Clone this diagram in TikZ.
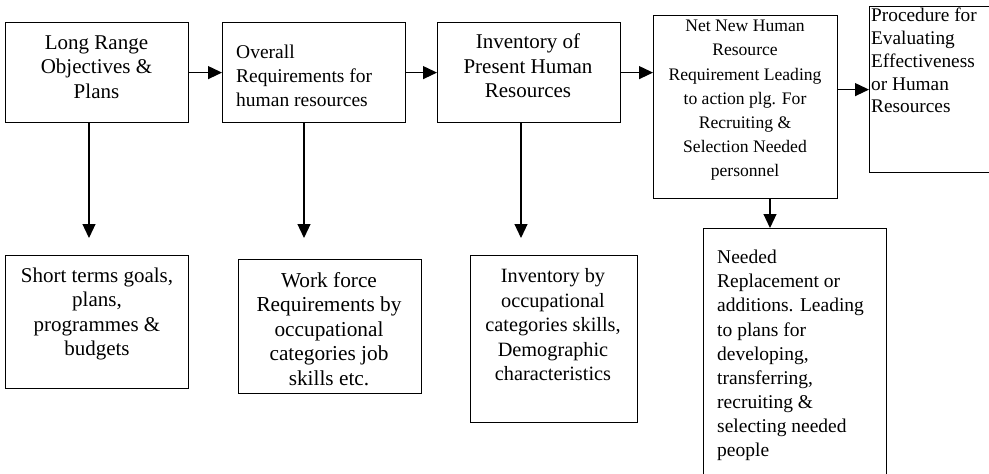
\documentclass[tikz,border=0pt]{standalone}
\usepackage{fontspec}
\setmainfont{Liberation Serif}
\usetikzlibrary{arrows.meta,calc}
\begin{document}
\begin{tikzpicture}[x=1pt,y=-1pt,
  box/.style={draw,line width=1.2pt,inner sep=0pt,anchor=north west},
  txt/.style={inner sep=0pt},
  arr/.style={line width=1.2pt,-{Triangle[length=14pt,width=13pt]}}]
\useasboundingbox (0,0) rectangle (989,474);
% top row boxes
\node[box,minimum width=183pt,minimum height=100pt] (b1) at (5,22) {};
\node[box,minimum width=183pt,minimum height=100pt] (b2) at (222,22) {};
\node[box,minimum width=183pt,minimum height=100pt] (b3) at (437,22) {};
\node[box,minimum width=184pt,minimum height=183pt] (b4) at (653,15) {};
\node[box,minimum width=183pt,minimum height=166pt] (b5) at (869,6) {};
% bottom row boxes
\node[box,minimum width=183pt,minimum height=133pt] (n1) at (5,255) {};
\node[box,minimum width=183pt,minimum height=134pt] (n2) at (238,259) {};
\node[box,minimum width=167pt,minimum height=167pt] (n3) at (470,255) {};
\node[box,minimum width=183pt,minimum height=260pt] (n4) at (703,228) {};
% texts
\node[txt,align=center,font=\fontsize{21}{24.3}\selectfont] (t1) at (96.5,67) {Long Range\\Objectives \&\\Plans};
\node[txt,align=left,anchor=west,font=\fontsize{19.5}{24.2}\selectfont] (t2) at (236,76) {Overall\\Requirements for\\human resources};
\node[txt,align=center,font=\fontsize{21}{24.5}\selectfont] (t3) at (528,66) {Inventory of\\Present Human\\Resources};
\node[txt,align=center,font=\fontsize{17.6}{24.2}\selectfont] (t4) at (745,100.5) {Net New Human\\Resource\\Requirement Leading\\to action plg. For\\Recruiting \&\\Selection Needed\\personnel};
\node[txt,align=left,anchor=west,font=\fontsize{19.3}{22.8}\selectfont] (t5) at (871,60.5) {Procedure for\\Evaluating\\Effectiveness\\or Human\\Resources};
\node[txt,align=center,font=\fontsize{21}{24.4}\selectfont] (s1) at (97,314) {Short terms goals,\\plans,\\programmes \&\\budgets};
\node[txt,align=center,font=\fontsize{21.3}{24.5}\selectfont] (s2) at (329,329) {Work force\\Requirements by\\occupational\\categories job\\skills etc.};
\node[txt,align=center,font=\fontsize{20.3}{24.5}\selectfont] (s3) at (553,325) {Inventory by\\occupational\\categories skills,\\Demographic\\characteristics};
\node[txt,align=left,anchor=west,font=\fontsize{19.5}{24.1}\selectfont] (s4) at (717,355.5) {Needed\\Replacement or\\additions. Leading\\to plans for\\developing,\\transferring,\\recruiting \&\\selecting needed\\people};
% horizontal arrows
\draw[arr] (b1.east) -- (b2.west);
\draw[arr] (b2.east) -- (b3.west);
\draw[arr] (b3.east) -- (b3.east -| b4.west);
\draw[arr] (b4.east |- b5.west) -- (b5.west);
% vertical arrows
\coordinate (d1) at (89,122); \coordinate (e1) at (89,238);
\coordinate (d2) at (304,122); \coordinate (e2) at (304,238);
\coordinate (d3) at (521,122); \coordinate (e3) at (521,238);
\coordinate (d4) at (770,198);
\draw[arr] (d1 |- b1.south) -- (e1);
\draw[arr] (d2 |- b2.south) -- (e2);
\draw[arr] (d3 |- b3.south) -- (e3);
\draw[arr] (d4 |- b4.south) -- (d4 |- n4.north);
\end{tikzpicture}
\end{document}
